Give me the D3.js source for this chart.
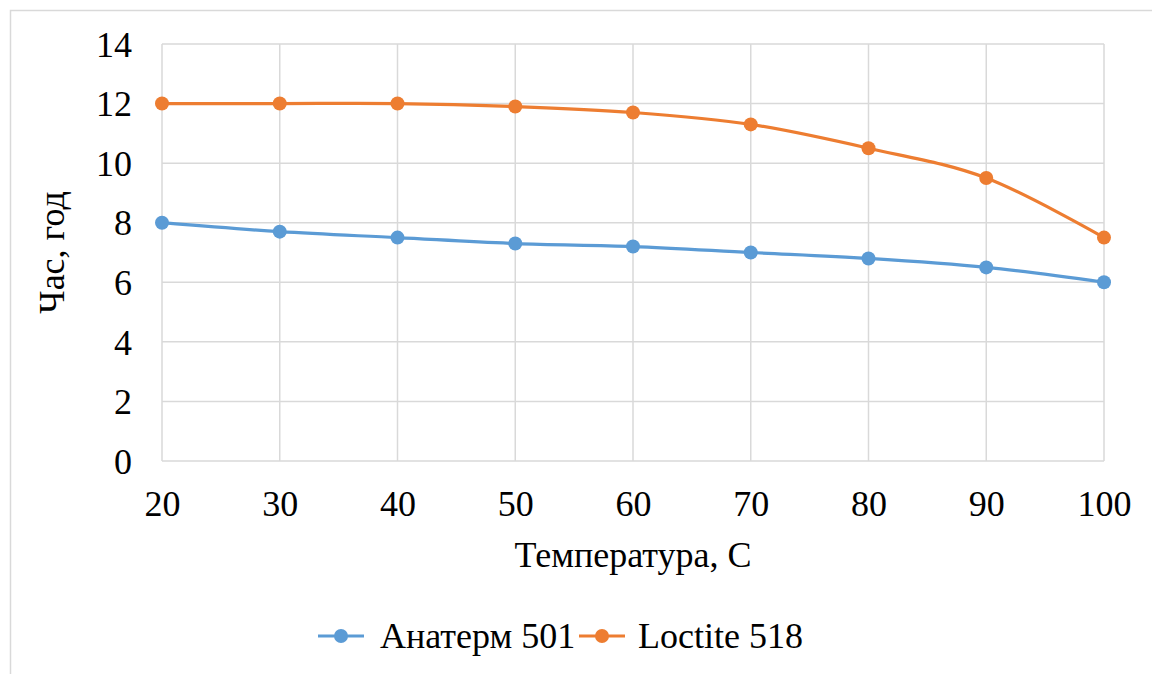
<!DOCTYPE html>
<html>
<head>
<meta charset="utf-8">
<script src="https://cdn.jsdelivr.net/npm/d3@7"></script>
<style>
  body { margin: 0; background: #fff; }
</style>
</head>
<body>
<svg id="chart" width="1152" height="674"></svg>
<script>
const temperatures = [20, 30, 40, 50, 60, 70, 80, 90, 100];
const anaterm = [8.0, 7.7, 7.5, 7.3, 7.2, 7.0, 6.8, 6.5, 6.0];
const loctite = [12.0, 12.0, 12.0, 11.9, 11.7, 11.3, 10.5, 9.5, 7.5];
const yTicks = [0, 2, 4, 6, 8, 10, 12, 14];
const seriesNames = ['Анатерм 501', 'Loctite 518'];
const colors = ['#5B9BD5', '#ED7D31'];

const FONT = 'Liberation Serif';
const FS = 36;

const svg = d3.select('#chart');

// outer chart frame (cut off at right and bottom like the source)
svg.append('rect')
  .attr('x', 10.5).attr('y', 10.5)
  .attr('width', 1160).attr('height', 700)
  .attr('fill', 'none')
  .attr('stroke', '#d9d9d9')
  .attr('stroke-width', 1.5);

const margin = { left: 162, right: 1104, top: 44, bottom: 461 };

const x = d3.scaleLinear().domain([20, 100]).range([margin.left, margin.right]);
const y = d3.scaleLinear().domain([0, 14]).range([margin.bottom, margin.top]);

// gridlines
const grid = svg.append('g').attr('class', 'grid');
grid.selectAll('.hgrid')
  .data(yTicks)
  .enter().append('line')
  .attr('x1', margin.left).attr('x2', margin.right)
  .attr('y1', d => y(d)).attr('y2', d => y(d))
  .attr('stroke', '#d9d9d9').attr('stroke-width', 1.5);
grid.selectAll('.vgrid')
  .data(temperatures)
  .enter().append('line')
  .attr('x1', d => x(d)).attr('x2', d => x(d))
  .attr('y1', margin.top).attr('y2', margin.bottom)
  .attr('stroke', '#d9d9d9').attr('stroke-width', 1.5);

// axes (labels only)
const yAxis = svg.append('g')
  .attr('transform', `translate(${margin.left - 30},0)`)
  .call(d3.axisLeft(y).tickValues(yTicks).tickSize(0).tickPadding(0));
yAxis.select('.domain').remove();
yAxis.attr('font-family', FONT).attr('font-size', FS);
yAxis.selectAll('text').attr('fill', '#000').attr('dy', '0.34em');

const xAxis = svg.append('g')
  .attr('transform', `translate(0,${margin.bottom + 30})`)
  .call(d3.axisBottom(x).tickValues(temperatures).tickSize(0).tickPadding(0));
xAxis.select('.domain').remove();
xAxis.attr('font-family', FONT).attr('font-size', FS);
xAxis.selectAll('text').attr('fill', '#000').attr('dy', '0.7em');

// axis titles
svg.append('text')
  .attr('x', (margin.left + margin.right) / 2)
  .attr('y', 567)
  .attr('text-anchor', 'middle')
  .attr('font-family', FONT)
  .attr('font-size', FS)
  .text('Температура, С');

svg.append('text')
  .attr('transform', `translate(64,${(margin.top + margin.bottom) / 2}) rotate(-90)`)
  .attr('text-anchor', 'middle')
  .attr('font-family', FONT)
  .attr('font-size', FS)
  .text('Час, год');

// series
const series = [anaterm, loctite];
const line = d3.line()
  .x((d, i) => x(temperatures[i]))
  .y(d => y(d))
  .curve(d3.curveCatmullRom.alpha(0));

series.forEach((vals, s) => {
  svg.append('path')
    .datum(vals)
    .attr('d', line)
    .attr('fill', 'none')
    .attr('stroke', colors[s])
    .attr('stroke-width', 3.2)
    .attr('stroke-linecap', 'round');
  svg.append('g').selectAll('circle')
    .data(vals)
    .enter().append('circle')
    .attr('cx', (d, i) => x(temperatures[i]))
    .attr('cy', d => y(d))
    .attr('r', 7)
    .attr('fill', colors[s]);
});

// legend
const legendX = [318, 579];
const legend = svg.append('g').selectAll('g')
  .data(seriesNames)
  .enter().append('g')
  .attr('transform', (d, i) => `translate(${legendX[i]},636)`);
legend.append('line')
  .attr('x1', 0).attr('x2', 46)
  .attr('stroke', (d, i) => colors[i])
  .attr('stroke-width', 3.2);
legend.append('circle')
  .attr('cx', 23).attr('r', 7)
  .attr('fill', (d, i) => colors[i]);
legend.append('text')
  .attr('x', (d, i) => i === 0 ? 62 : 59)
  .attr('dy', '0.34em')
  .attr('font-family', FONT)
  .attr('font-size', FS)
  .text(d => d);
</script>
</body>
</html>
